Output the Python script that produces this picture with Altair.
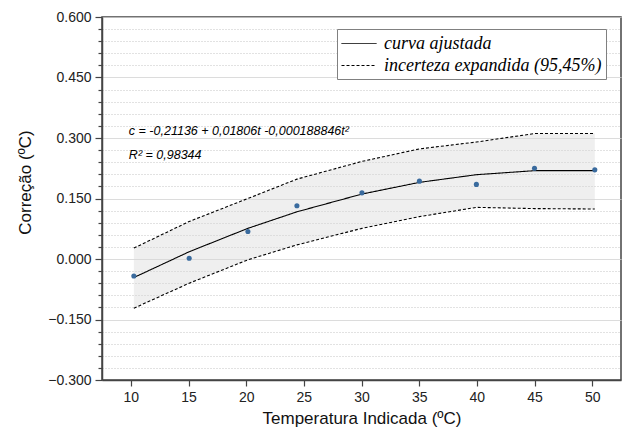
import altair as alt
import pandas as pd

# Temperatura indicada (ºC) e correção (ºC)
temperatura = [10.26, 15.06, 20.15, 24.4, 30.04, 35.02, 39.96, 45.0, 50.23]
correcao = [-0.042, 0.002, 0.068, 0.132, 0.164, 0.193, 0.185, 0.225, 0.221]
curva_ajustada = [-0.046, 0.018, 0.076, 0.117, 0.161, 0.190, 0.209, 0.219, 0.219]
limite_superior = [0.027, 0.093, 0.150, 0.198, 0.242, 0.273, 0.290, 0.311, 0.311]
limite_inferior = [-0.122, -0.060, -0.002, 0.035, 0.076, 0.105, 0.128, 0.125, 0.124]

x_ticks = [10, 15, 20, 25, 30, 35, 40, 45, 50]
y_ticks = [round(-0.3 + 0.03 * i, 2) for i in range(31)]

serie_curva = "curva ajustada"
serie_inc = "incerteza expandida (95,45%)"

pts = pd.DataFrame({"t": temperatura, "c": correcao})
band = pd.DataFrame({"t": temperatura, "inf": limite_inferior, "sup": limite_superior})
rows = []
for grupo, serie, vals in [("ajuste", serie_curva, curva_ajustada),
                           ("sup", serie_inc, limite_superior),
                           ("inf", serie_inc, limite_inferior)]:
    for t, v in zip(temperatura, vals):
        rows.append({"t": t, "v": v, "grupo": grupo, "serie": serie})
lines = pd.DataFrame(rows)

annot = pd.DataFrame({
    "t": [9.83, 9.83],
    "v": [0.307, 0.247],
    "txt": ["c = -0,21136 + 0,01806t -0,000188846t²", "R² = 0,98344"],
})

major_test = "abs(datum.value/0.15 - round(datum.value/0.15)) < 0.001"

xscale = alt.Scale(domain=[7.5, 52.5], nice=False, zero=False)
yscale = alt.Scale(domain=[-0.3, 0.6], nice=False, zero=False)

xaxis = alt.Axis(
    values=x_ticks, grid=False, tickSize=6, labelPadding=4, labelFontSize=14,
    labelFont="Liberation Sans", labelColor="#222", tickColor="#444",
    domainColor="#444", domainWidth=1.5, tickWidth=1.2,
    title="Temperatura Indicada (ºC)", titleFont="Liberation Sans", titleFontSize=17,
    titleFontWeight="normal", titleColor="#111", titleY=43, titleBaseline="alphabetic",
)
yaxis = alt.Axis(
    values=y_ticks, tickCount=40, labelOverlap=False,
    labelExpr=f"{major_test} ? format(datum.value, '.3f') : ''",
    tickSize={"condition": {"test": major_test, "value": 7}, "value": 4},
    gridDash={"condition": {"test": major_test, "value": [1, 0]}, "value": [1, 2]},
    gridColor={"condition": {"test": major_test, "value": "#d0d0d0"}, "value": "#c4c4c4"},
    grid=True, gridWidth=1, labelPadding=4, labelFontSize=14,
    labelFont="Liberation Sans", labelColor="#222", tickColor="#444", tickWidth=1.2,
    domainColor="#444", domainWidth=1.5,
    title="Correção (ºC)", titleFont="Liberation Sans", titleFontSize=17,
    titleFontWeight="normal", titleColor="#111", titleAngle=-90,
    titleX=-77, titleY=165, titleBaseline="middle", titleAlign="center",
)

area = alt.Chart(band).mark_area(color="#d8d8d8", opacity=0.4).encode(
    x=alt.X("t:Q", scale=xscale, axis=xaxis),
    y=alt.Y("inf:Q", scale=yscale, axis=yaxis),
    y2="sup:Q",
)

line = alt.Chart(lines).mark_line(color="black", strokeWidth=1.1).encode(
    x=alt.X("t:Q", scale=xscale),
    y=alt.Y("v:Q", scale=yscale),
    detail="grupo:N",
    strokeDash=alt.StrokeDash(
        "serie:N",
        scale=alt.Scale(domain=[serie_curva, serie_inc], range=[[1, 0], [3, 2]]),
        legend=alt.Legend(
            title=None, orient="none", legendX=235, legendY=12,
            strokeColor="#808080", fillColor="white", padding=4,
            labelFont="Liberation Serif", labelFontStyle="italic", labelFontSize=18,
            labelColor="black", labelOffset=22, rowPadding=2,
            symbolType="M-1,0H2.5", symbolSize=400, symbolStrokeWidth=1,
            symbolStrokeColor="black", labelLimit=400,
        ),
    ),
)

points = alt.Chart(pts).mark_circle(size=26, color="#3a6b9e", opacity=1).encode(
    x=alt.X("t:Q", scale=xscale),
    y=alt.Y("c:Q", scale=yscale),
)

text = alt.Chart(annot).mark_text(
    align="left", baseline="alphabetic", font="Liberation Sans",
    fontStyle="italic", fontSize=12.5, color="black",
).encode(
    x=alt.X("t:Q", scale=xscale),
    y=alt.Y("v:Q", scale=yscale),
    text="txt:N",
)

chart = alt.layer(area, line, points, text).properties(
    width=519, height=363,
    autosize=alt.AutoSizeParams(type="none"),
    padding={"left": 102, "top": 17, "right": 13, "bottom": 59},
    background="white",
).configure_view(stroke="#444", strokeWidth=1.5)

chart.save("out.html", embed_options={"renderer": "svg", "actions": False})
